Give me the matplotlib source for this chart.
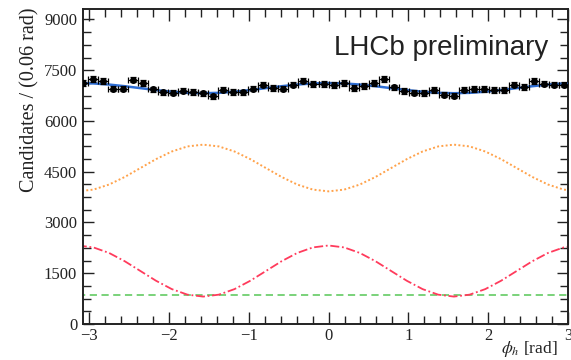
import numpy as np
import matplotlib
matplotlib.use("Agg")
import matplotlib.pyplot as plt
from matplotlib.ticker import MultipleLocator

# ---- binned data: 50 bins over [-pi, pi] ----
n_bins = 50
counts = [7125, 7243, 7172, 6956, 6956, 7222, 7113, 6935, 6846, 6838,
          6897, 6858, 6815, 6728, 6926, 6858, 6846, 6956, 7074, 6976,
          6956, 7074, 7193, 7095, 7095, 7054, 7125, 6976, 7024, 7125,
          7235, 6990, 6890, 6840, 6820, 6906, 6778, 6749, 6926, 6947,
          6947, 6906, 6906, 7074, 7006, 7172, 7104, 7074, 7074, 7100]

# ---- fit components, sampled every pi/16 ----
phi_fit = np.linspace(-np.pi, np.pi, 33)
total_fit = [7120, 7109, 7076, 7027, 6970, 6913, 6864, 6831, 6820, 6831, 6864,
             6913, 6970, 7027, 7076, 7109, 7120, 7109, 7076, 7027, 6970, 6913,
             6864, 6831, 6820, 6831, 6864, 6913, 6970, 7027, 7076, 7109, 7120]
comp_a = [3920, 3972, 4122, 4346, 4610, 4874, 5098, 5248, 5300, 5248, 5098,
          4874, 4610, 4346, 4122, 3972, 3920, 3972, 4122, 4346, 4610, 4874,
          5098, 5248, 5300, 5248, 5098, 4874, 4610, 4346, 4122, 3972, 3920]
comp_b = [2320, 2263, 2099, 1854, 1565, 1276, 1031, 867, 810, 867, 1031,
          1276, 1565, 1854, 2099, 2263, 2320, 2263, 2099, 1854, 1565, 1276,
          1031, 867, 810, 867, 1031, 1276, 1565, 1854, 2099, 2263, 2320]
comp_c = [860] * 33

edges = np.linspace(-np.pi, np.pi, n_bins + 1)
centers = 0.5 * (edges[:-1] + edges[1:])
half_w = 0.5 * (edges[1] - edges[0])
counts = np.array(counts, dtype=float)

plt.rcParams["mathtext.fontset"] = "stix"
serif = "Liberation Serif"
ink = "#222222"

fig = plt.figure(figsize=(5.71, 3.60), dpi=100)
ax = fig.add_axes([82.7 / 571, 1 - 324 / 360, (568 - 82.7) / 571, (324 - 9.3) / 360])

ax.plot(phi_fit, comp_c, color="#6fcf6f", lw=1.3, ls=(0, (4, 2.5)), zorder=2)
ax.plot(phi_fit, comp_b, color="#ff3b5c", lw=1.3, ls=(0, (5, 1.5, 1, 1.5)), zorder=2)
ax.plot(phi_fit, comp_a, color="#ffa24a", lw=1.4, ls=(0, (1, 1.2)), zorder=2)
ax.plot(phi_fit, total_fit, color="#2f6fd6", lw=1.8, zorder=3)

ax.errorbar(centers, counts, yerr=np.sqrt(counts), xerr=half_w, fmt="o",
            ms=4.0, color="black", ecolor="black", elinewidth=0.9,
            capsize=2.4, capthick=0.9, zorder=4)

ax.set_xlim(-3.08, 3.0)
ax.set_ylim(0, 9300)

ax.xaxis.set_major_locator(MultipleLocator(1))
ax.xaxis.set_minor_locator(MultipleLocator(0.2))
ax.yaxis.set_major_locator(MultipleLocator(1500))
ax.yaxis.set_minor_locator(MultipleLocator(375))

ax.tick_params(which="both", direction="in", top=True, right=True,
               color=ink, width=1.0, labelsize=12, labelcolor=ink)
ax.tick_params(axis="x", which="major", length=8.6, pad=3)
ax.tick_params(axis="x", which="minor", length=6)
ax.tick_params(axis="y", which="major", length=8, pad=4)
ax.tick_params(axis="y", which="minor", length=6)
for lab in ax.get_xticklabels() + ax.get_yticklabels():
    lab.set_fontfamily(serif)
for sp in ax.spines.values():
    sp.set_linewidth(1.4)
    sp.set_color(ink)

fig.text(30 / 571, 1 - 8 / 360, "Candidates / (0.06 rad)", rotation=90,
         ha="center", va="top", fontsize=14.5, family=serif, color=ink)
fig.text(558 / 571, 1 / 360, r"$\phi_h$ [rad]", ha="right", va="bottom",
         fontsize=12.5, family=serif, color=ink)
fig.text(334 / 571, 1 - 48 / 360, "LHCb preliminary", ha="left", va="center",
         fontsize=20, family="Liberation Sans", color="#222222")

fig.savefig("out.png", dpi=100)
